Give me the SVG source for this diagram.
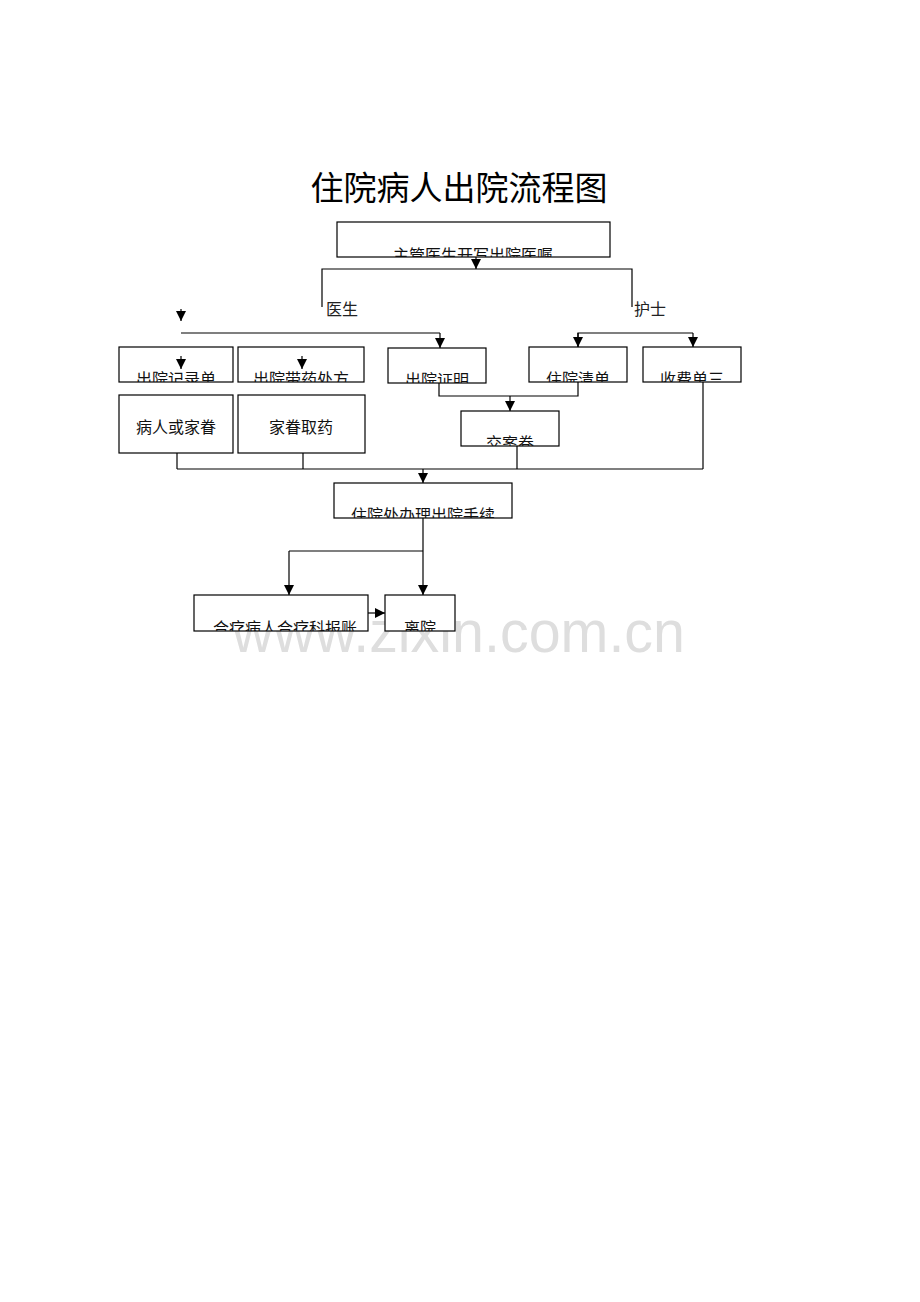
<svg xmlns="http://www.w3.org/2000/svg" width="920" height="1302" viewBox="0 0 920 1302">
<style>
.box{fill:#fff;stroke:#000;stroke-width:1.2}
.ln{fill:none;stroke:#000;stroke-width:1.2}
.ar{fill:none;stroke:#000;stroke-width:1.2;marker-end:url(#ah)}
.t{font-family:"Liberation Sans","Noto Sans CJK SC",sans-serif;font-size:16px;fill:#111;text-anchor:middle}
.lb{font-family:"Liberation Sans","Noto Sans CJK SC",sans-serif;font-size:16px;fill:#222}
.title{font-family:"Liberation Sans","Noto Sans CJK SC",sans-serif;font-size:33px;fill:#000;text-anchor:middle}
.wm{font-family:"Liberation Sans",Arial,sans-serif;font-size:60px;fill:#dedede}
</style>
<defs>
<marker id="ah" markerUnits="userSpaceOnUse" markerWidth="10" markerHeight="10" refX="10" refY="5" orient="auto">
<path d="M0,0 L10,5 L0,10 z" fill="#000"/>
</marker>
<clipPath id="c1"><rect x="337" y="222" width="273" height="35"/></clipPath>
<clipPath id="c2"><rect x="119" y="347" width="114" height="35"/></clipPath>
<clipPath id="c3"><rect x="238" y="347" width="126" height="35"/></clipPath>
<clipPath id="c4"><rect x="388" y="348" width="98" height="35"/></clipPath>
<clipPath id="c5"><rect x="529" y="347" width="98" height="35"/></clipPath>
<clipPath id="c6"><rect x="643" y="347" width="98" height="35"/></clipPath>
<clipPath id="c7"><rect x="461" y="411" width="98" height="35"/></clipPath>
<clipPath id="c8"><rect x="334" y="483" width="178" height="35"/></clipPath>
<clipPath id="c9"><rect x="194" y="595" width="174" height="36"/></clipPath>
<clipPath id="c10"><rect x="385" y="595" width="70" height="36"/></clipPath>
</defs>
<rect width="920" height="1302" fill="#fff"/>
<text class="wm" x="232" y="652" textLength="453" lengthAdjust="spacingAndGlyphs">www.zixin.com.cn</text>
<text class="title" x="459" y="200">住院病人出院流程图</text>

<g id="n1"><rect class="box" x="337" y="222" width="273" height="35"/><text class="t" x="473" y="261" clip-path="url(#c1)">主管医生开写出院医嘱</text></g>
<g id="l-doctor"><text class="lb" x="326" y="315">医生</text></g>
<g id="l-nurse"><text class="lb" x="634" y="315">护士</text></g>
<g id="n2"><rect class="box" x="119" y="347" width="114" height="35"/><text class="t" x="176" y="385" clip-path="url(#c2)">出院记录单</text></g>
<g id="n3"><rect class="box" x="238" y="347" width="126" height="35"/><text class="t" x="301" y="385" clip-path="url(#c3)">出院带药处方</text></g>
<g id="n4"><rect class="box" x="388" y="348" width="98" height="35"/><text class="t" x="437" y="386" clip-path="url(#c4)">出院证明</text></g>
<g id="n5"><rect class="box" x="529" y="347" width="98" height="35"/><text class="t" x="578" y="385" clip-path="url(#c5)">住院清单</text></g>
<g id="n6"><rect class="box" x="643" y="347" width="98" height="35"/><text class="t" x="692" y="385" clip-path="url(#c6)">收费单三</text></g>
<g id="n7"><rect class="box" x="119" y="395" width="114" height="58"/><text class="t" x="176" y="433">病人或家眷</text></g>
<g id="n8"><rect class="box" x="238" y="395" width="127" height="58"/><text class="t" x="301" y="433">家眷取药</text></g>
<g id="n9"><rect class="box" x="461" y="411" width="98" height="35"/><text class="t" x="510" y="449" clip-path="url(#c7)">交案卷</text></g>
<g id="n10"><rect class="box" x="334" y="483" width="178" height="35"/><text class="t" x="423" y="521" clip-path="url(#c8)">住院处办理出院手续</text></g>
<g id="n11"><rect class="box" x="194" y="595" width="174" height="36"/><text class="t" x="285" y="634" clip-path="url(#c9)">合疗病人合疗科报账</text></g>
<g id="n12"><rect class="box" x="385" y="595" width="70" height="36"/><text class="t" x="420" y="634" clip-path="url(#c10)">离院</text></g>

<g id="connectors">
<line class="ar" x1="476" y1="257" x2="476" y2="269"/>
<polyline class="ln" points="322,307 322,269 632,269 632,307"/>
<line class="ar" x1="181" y1="309" x2="181" y2="321"/>
<line class="ln" x1="181" y1="333" x2="440" y2="333"/>
<line class="ar" x1="440" y1="333" x2="440" y2="348"/>
<line class="ar" x1="181" y1="356" x2="181" y2="369"/>
<line class="ar" x1="302" y1="356" x2="302" y2="369"/>
<polyline class="ln" points="578,347 578,333 693,333"/>
<line class="ar" x1="578" y1="333" x2="578" y2="347"/>
<line class="ar" x1="693" y1="333" x2="693" y2="347"/>
<polyline class="ln" points="439,383 439,396 578,396 578,382"/>
<line class="ar" x1="510" y1="396" x2="510" y2="411"/>
<line class="ln" x1="517" y1="446" x2="517" y2="469"/>
<line class="ln" x1="703" y1="382" x2="703" y2="469"/>
<line class="ln" x1="177" y1="453" x2="177" y2="469"/>
<line class="ln" x1="303" y1="453" x2="303" y2="469"/>
<line class="ln" x1="177" y1="469" x2="703" y2="469"/>
<line class="ar" x1="423" y1="469" x2="423" y2="483"/>
<line class="ar" x1="423" y1="518" x2="423" y2="595"/>
<line class="ln" x1="289" y1="551" x2="423" y2="551"/>
<line class="ar" x1="289" y1="551" x2="289" y2="595"/>
<line class="ar" x1="368" y1="613" x2="385" y2="613"/>
</g>
</svg>
